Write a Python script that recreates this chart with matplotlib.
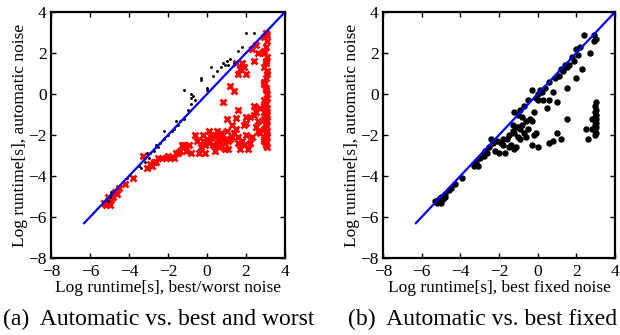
import matplotlib
matplotlib.use("Agg")
import matplotlib.pyplot as plt
import numpy as np

plt.rcParams['font.family'] = ['Liberation Serif', 'DejaVu Serif']

# ---------- data (log runtime) ----------
# panel (a): best noise (black dots)
best_x = [2.0, 2.4, 1.8, 1.6, 1.2, 1.0, 1.1, 0.9, 0.7, 0.5, 0.3, 0.2, -0.3, -0.3, 0.0, 0.0,
          -0.8, -0.7, -0.8, -1.2, -0.6, -0.8, -1.0, -1.2, -1.4, -1.5, -1.7, -1.8, -2.0, -2.2,
          -2.2, -2.4, -2.5, -2.7, -2.9, -3.0, -3.2, -3.5, -3.4, -4.1, -5.0, -5.1, -4.9, -1.6,
          -2.6, -3.1, 1.4, 0.8]
best_y = [3.0, 3.0, 2.3, 2.1, 1.7, 1.6, 1.4, 1.4, 1.3, 1.1, 0.9, 1.3, 0.8, 0.7, 0.3, 0.2,
          0.0, -0.1, -0.2, 0.2, -0.3, -0.5, -0.8, -1.2, -1.3, -1.5, -1.7, -1.8, -2.0, -1.8,
          -2.2, -2.4, -2.6, -2.8, -2.9, -3.1, -3.3, -3.5, -3.6, -4.1, -5.0, -5.2, -4.8, -1.3,
          -2.5, -2.9, 1.5, 1.5]

# panel (a): worst noise (red crosses)
worst_x = [3.0, 2.9, 3.1, 3.0, 2.9, 3.1, 3.0, 2.9, 3.1, 3.0, 2.9, 3.0, 3.1, 2.9, 3.0, 3.1,
           2.9, 3.0, 3.1, 3.0, 2.9, 3.0, 3.1, 2.9, 3.0, 3.1,
           3.1, 2.9, 3.0, 3.1, 2.9, 3.0, 3.1, 2.9, 3.0, 3.1, 2.9, 3.0, 3.1, 2.9, 3.0,
           2.3, 2.6, 2.5, 1.5, 1.7, 1.9, 1.8, 2.0, 1.6, 2.4,
           1.2, 1.4, 0.8, 1.6, 2.5, 2.2, 1.9, 2.7, 2.5, 1.0, 2.0, 1.5, 2.7, 2.4,
           -3.1, -2.9, -2.7, -2.5, -2.3, -2.1, -1.9, -1.6, -1.4, -1.2, -1.1, -0.9, -0.5, -0.4,
           -0.1, -0.3, 0.0, 0.2, 0.3, 0.4, 0.5, 0.6, 0.8, 0.6, 0.9, 1.1, 1.2, 1.4, 1.3, 1.5,
           1.6, 1.8, 1.7, 2.0, 2.2, 1.9, -0.2, 0.1, 0.7, -2.8,
           -2.6, -2.0, -1.7, -1.5, -1.3, -0.8, -0.6, -0.2, 0.1, 0.3, 0.5, 0.7, 1.0, 1.1, 1.3,
           0.4, 0.9, -0.1, 1.6, 2.1, 2.3, 2.6, 2.6, 2.4, 2.0,
           -3.8, -4.2, -4.5, -4.7, -4.8, -5.0, -5.1, -5.2, -5.3, -4.9, -5.1, -4.6, -5.0, -3.3]
worst_y = [3.0, 2.8, 2.6, 2.3, 2.0, 1.8, 1.6, 1.3, 1.0, 0.8, 0.5, 0.2, 0.0, -0.3, -0.5, -0.7,
           -0.9, -1.1, -1.3, -1.5, -1.7, -1.9, -2.1, -2.3, -2.5, -2.6,
           2.9, 2.1, 1.5, 1.1, 0.6, 0.3, -0.2, -0.6, -0.8, -1.0, -1.2, -1.4, -1.8, -2.2, -2.4,
           2.2, 2.0, 2.4, 1.5, 1.2, 1.3, 1.5, 1.0, 1.0, 1.6,
           0.4, 0.15, -0.4, -0.8, -0.9, -1.1, -1.5, -1.9, -1.6, -1.2, -1.1, -1.15, -0.7, -1.0,
           -3.6, -3.4, -3.3, -3.1, -3.1, -3.1, -3.1, -2.9, -2.8, -2.5, -2.8, -2.5, -2.3, -2.9,
           -2.9, -2.6, -2.2, -2.1, -2.5, -2.0, -1.8, -2.3, -2.2, -2.6, -2.7, -2.7, -2.2, -1.9, -1.5, -1.7,
           -2.1, -2.3, -2.7, -2.0, -2.4, -2.5, -2.0, -2.4, -1.9, -3.5,
           -3.3, -3.0, -3.1, -2.9, -2.5, -2.9, -2.0, -2.3, -1.8, -2.0, -2.4, -2.0, -1.8, -2.3, -2.1,
           -2.8, -2.4, -2.5, -2.4, -2.7, -2.1, -1.8, -1.3, -0.6, -1.4,
           -4.1, -4.4, -4.6, -4.8, -5.0, -5.2, -5.3, -5.4, -5.3, -5.1, -5.0, -4.9, -5.4, -3.0]

# panel (b): best fixed noise vs automatic
fixed_x = [2.5, 2.8, 2.6, 1.5, 1.0, 1.2, 0.8, 0.6, 0.0, -0.3, -0.1, -0.2, 2.0, 2.3, 2.7, 2.4,
           2.9, 3.0, 2.9, 2.2, 2.0, 1.8, 1.9, 2.1, 1.6, 1.5, 1.4, 1.3, 1.1, 1.2, 1.0, 1.5,
           0.9, 0.6, 0.4, 0.2, 0.0, 0.1, -0.1, 0.0, 0.3, 0.6, 1.0, 0.8, 0.5, -0.3, -0.5,
           -0.7, -0.9, -1.0, -0.8, -1.2, -0.6, -0.4, -0.2, -0.3, -0.8, -1.1, -1.3, -1.5,
           -1.2, -1.0, -0.7, -0.9, -1.1, -1.6, -1.8, -1.9, -2.1, -2.3, -2.4, -2.5, -2.0,
           -2.2, -1.8, -1.7, -1.4, -1.3, -1.0, -0.9, -0.6, -0.5, -1.5, -1.2, -2.7, -2.8,
           -3.0, -3.2, -3.3, -3.1, -2.6, -3.9, -4.3, -4.5, -4.8, -5.0, -5.1, -5.2, -5.3,
           -4.9, -5.0, -4.8, -4.6,
           3.0, 2.95, 3.0, 2.95, 3.0, 2.95, 3.0, 2.95, 3.0, 2.95, 3.0, 2.95, 3.0, 2.95, 2.8]
fixed_y = [-1.7, -1.7, -2.2, -1.2, -1.9, -2.2, -2.3, -2.4, -2.6, -2.5, -1.9, -2.0, 0.8, 1.2, 2.0, 2.9,
           2.9, 2.7, 2.6, 2.3, 2.2, 1.8, 1.6, 1.9, 1.4, 1.3, 1.4, 1.1, 0.9, 1.2, 0.9, 0.3,
           0.8, 0.6, 0.3, 0.1, 0.0, 0.2, -0.2, -0.3, -0.3, -0.3, -0.4, 0.1, -0.7, 0.2, -0.3,
           -0.6, -0.8, -1.0, -1.1, -0.9, -1.3, -1.2, -0.9, -1.3, -1.5, -1.6, -1.8, -2.0,
           -1.9, -2.1, -1.9, -2.2, -2.6, -2.2, -2.2, -2.4, -2.3, -2.4, -2.2, -2.6, -2.9,
           -2.8, -2.5, -2.9, -2.5, -1.5, -1.6, -1.7, -2.1, -1.7, -2.6, -2.7, -2.8, -3.0,
           -3.1, -3.3, -3.5, -3.5, -2.9, -4.1, -4.4, -4.6, -4.9, -5.0, -5.1, -5.3, -5.2,
           -5.1, -5.3, -5.0, -4.7,
           -0.4, -0.6, -0.8, -0.9, -1.0, -1.1, -1.2, -1.3, -1.4, -1.5, -1.6, -1.8, -1.9, -2.0, -1.2]

diag = [-6.3, 4.0]
ticks = [-8, -6, -4, -2, 0, 2, 4]
tick_labels = ['\u2212' + str(-t) if t < 0 else str(t) for t in ticks]

fig = plt.figure(figsize=(6.2, 3.35), dpi=100)
axa = fig.add_axes([51/620, 1-258/335, 234/620, 246/335])
axb = fig.add_axes([383/620, 1-258/335, 232/620, 246/335])

axa.plot(worst_x, worst_y, linestyle='none', marker='x', color='red', ms=5, mew=2.0, zorder=2)
axa.plot(best_x, best_y, linestyle='none', marker='.', color='black', ms=2.2, zorder=3)
axa.plot(diag, diag, color='#0000ee', lw=1.6, zorder=4)

axb.plot(fixed_x, fixed_y, linestyle='none', marker='o', color='black', ms=3.6, zorder=2)
axb.plot(diag, diag, color='#0000ee', lw=1.6, zorder=4)

labels = ["Log runtime[s], best/worst noise", "Log runtime[s], best fixed noise"]
for ax, xl in zip([axa, axb], labels):
    ax.set_xlim(-8, 4)
    ax.set_ylim(-8, 4)
    ax.set_xticks(ticks)
    ax.set_yticks(ticks)
    ax.set_xticklabels(tick_labels)
    ax.set_yticklabels(tick_labels)
    ax.tick_params(direction='in', length=3.5, width=1.0, top=True, right=True,
                   labelsize=12.5)
    ax.tick_params(axis='x', pad=4)
    ax.tick_params(axis='y', pad=3)
    for s in ax.spines.values():
        s.set_linewidth(1.6)
    ax.set_xlabel(xl, fontsize=12.5, labelpad=0)
    ax.set_ylabel("Log runtime[s], automatic noise", fontsize=12.5, labelpad=0)

fig.text(3/620, 1-319/335, "(a)  Automatic vs. best and worst", fontsize=17, va='center', ha='left')
fig.text(617/620, 1-319/335, "(b)  Automatic vs. best fixed", fontsize=17, va='center', ha='right')

fig.savefig("out.png", dpi=100)
